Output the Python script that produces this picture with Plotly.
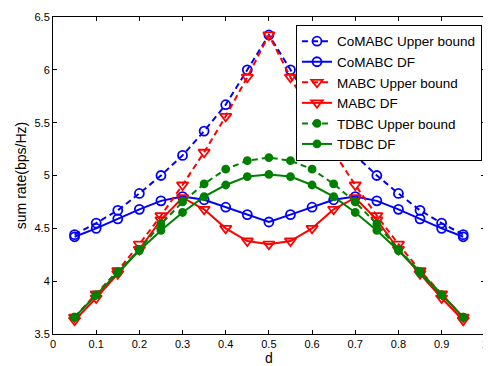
import plotly.graph_objects as go

d = [0.05, 0.10, 0.15, 0.20, 0.25, 0.30, 0.35, 0.40, 0.45, 0.50,
     0.55, 0.60, 0.65, 0.70, 0.75, 0.80, 0.85, 0.90, 0.95]

comabc_ub = [4.44, 4.55, 4.67, 4.83, 5.00, 5.19, 5.42, 5.67, 6.00, 6.33,
             6.00, 5.67, 5.42, 5.19, 5.00, 4.83, 4.67, 4.55, 4.44]
comabc_df = [4.42, 4.50, 4.59, 4.68, 4.76, 4.80, 4.77, 4.70, 4.63, 4.56,
             4.63, 4.70, 4.77, 4.80, 4.76, 4.68, 4.59, 4.50, 4.42]
mabc_ub = [3.66, 3.88, 4.10, 4.35, 4.62, 4.91, 5.22, 5.56, 5.93, 6.33,
           5.93, 5.56, 5.22, 4.91, 4.62, 4.35, 4.10, 3.88, 3.66]
mabc_df = [3.63, 3.84, 4.07, 4.30, 4.58, 4.79, 4.68, 4.50, 4.38, 4.35,
           4.38, 4.50, 4.68, 4.79, 4.58, 4.30, 4.07, 3.84, 3.63]
tdbc_ub = [3.66, 3.87, 4.09, 4.30, 4.54, 4.75, 4.92, 5.06, 5.14, 5.17,
           5.14, 5.06, 4.92, 4.75, 4.54, 4.30, 4.09, 3.87, 3.66]
tdbc_df = [3.66, 3.87, 4.08, 4.29, 4.48, 4.65, 4.80, 4.91, 4.99, 5.01,
           4.99, 4.91, 4.80, 4.65, 4.48, 4.29, 4.08, 3.87, 3.66]

x_ticks = [0, 0.1, 0.2, 0.3, 0.4, 0.5, 0.6, 0.7, 0.8, 0.9, 1]
x_ticklabels = ["0", "0.1", "0.2", "0.3", "0.4", "0.5", "0.6", "0.7", "0.8", "0.9", "1"]
y_ticks = [3.5, 4, 4.5, 5, 5.5, 6, 6.5]
y_ticklabels = ["3.5", "4", "4.5", "5", "5.5", "6", "6.5"]

series = [
    ("CoMABC Upper bound", comabc_ub, "#0000ff", "6px,4px", "circle-open", 9),
    ("CoMABC DF", comabc_df, "#0000ff", "solid", "circle-open", 9),
    ("MABC Upper bound", mabc_ub, "#ff0000", "6px,4px", "triangle-down-open", 10),
    ("MABC DF", mabc_df, "#ff0000", "solid", "triangle-down-open", 10),
    ("TDBC Upper bound", tdbc_ub, "#008000", "6px,4px", "circle", 7),
    ("TDBC DF", tdbc_df, "#008000", "solid", "circle", 7),
]

fig = go.Figure()
for name, y, color, dash, sym, size in series:
    fig.add_trace(go.Scatter(
        x=d, y=y, name=name, mode="lines+markers",
        line=dict(color=color, width=2, dash=dash),
        marker=dict(symbol=sym, size=size, color=color,
                    line=dict(color=color, width=1.8)),
    ))

axis_common = dict(
    showline=True, linecolor="black", linewidth=1, mirror="ticks",
    ticks="inside", ticklen=4, tickcolor="black", showgrid=False,
    zeroline=False, ticklabeloverflow="allow", tickmode="array",
    tickfont=dict(family="Liberation Sans, Arial", size=11, color="black"),
)

# the page body has an 8px default margin, so the figure is sized/offset to compensate
fig.update_layout(
    width=483, height=358,
    margin=dict(l=45, r=5, t=3, b=32),
    paper_bgcolor="white", plot_bgcolor="white",
    font=dict(family="Liberation Sans, Arial", size=14, color="black"),
    xaxis=dict(range=[0, 1.0005], tickvals=x_ticks, ticktext=x_ticklabels,
               title=dict(text="d", standoff=0, font=dict(size=14)),
               **axis_common),
    yaxis=dict(range=[3.5, 6.5], tickvals=y_ticks, ticktext=y_ticklabels,
               title=dict(text="sum rate(bps/Hz)", standoff=4, font=dict(size=14)),
               **axis_common),
    legend=dict(x=0.993, y=0.975, xanchor="right", yanchor="top",
                bgcolor="white", bordercolor="black", borderwidth=1,
                font=dict(size=13.5), tracegroupgap=0, itemwidth=30),
    showlegend=True,
)

fig.write_html("out.html")
